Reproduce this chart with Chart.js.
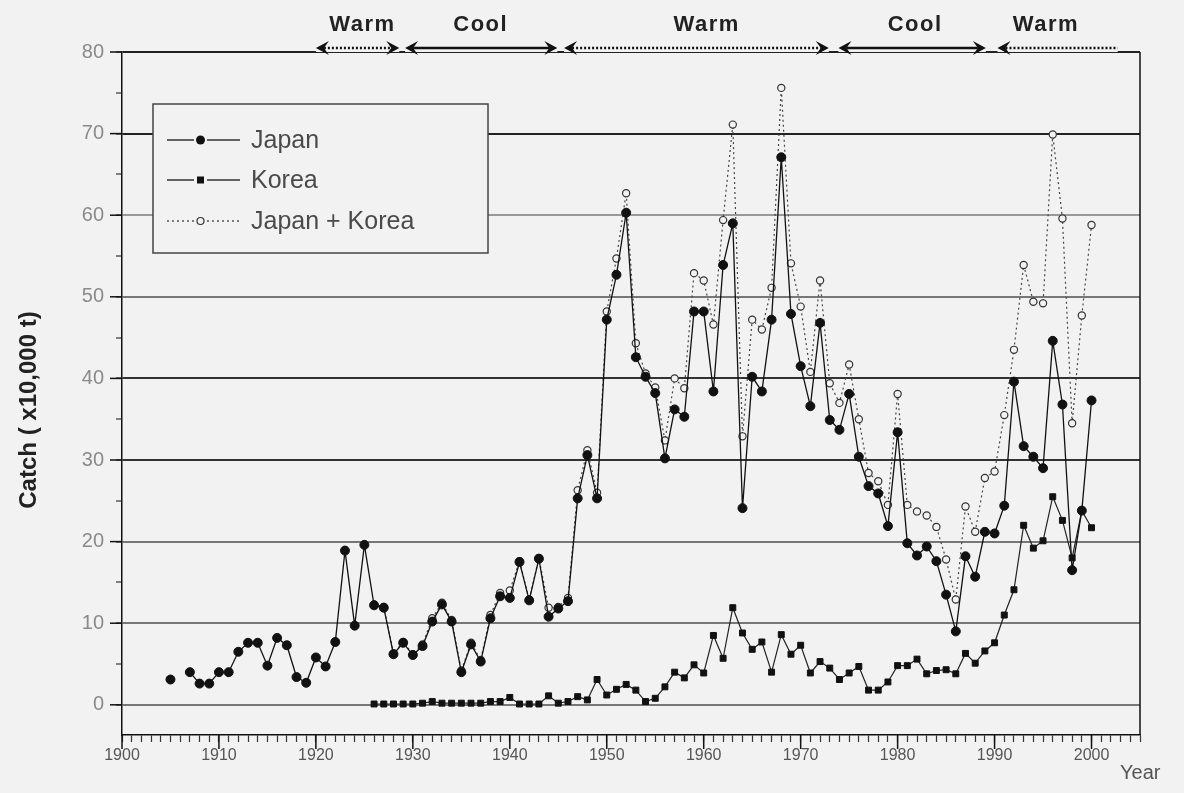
<!DOCTYPE html>
<html>
<head>
<meta charset="utf-8">
<script src="https://cdn.jsdelivr.net/npm/chart.js@4.4.1/dist/chart.umd.min.js"></script>
<style>
  html, body { margin: 0; padding: 0; background: #f2f2f2; }
  #wrap { position: relative; width: 1184px; height: 793px; }
</style>
</head>
<body>
<div id="wrap"><canvas id="graphCanvas" width="1184" height="793"></canvas></div>
<script>
// catch in units of 10,000 t, one entry per year 1905..2000 (null = no record)
var years = [
  1905, 1906, 1907, 1908, 1909, 1910, 1911, 1912, 1913, 1914,
  1915, 1916, 1917, 1918, 1919, 1920, 1921, 1922, 1923, 1924,
  1925, 1926, 1927, 1928, 1929, 1930, 1931, 1932, 1933, 1934,
  1935, 1936, 1937, 1938, 1939, 1940, 1941, 1942, 1943, 1944,
  1945, 1946, 1947, 1948, 1949, 1950, 1951, 1952, 1953, 1954,
  1955, 1956, 1957, 1958, 1959, 1960, 1961, 1962, 1963, 1964,
  1965, 1966, 1967, 1968, 1969, 1970, 1971, 1972, 1973, 1974,
  1975, 1976, 1977, 1978, 1979, 1980, 1981, 1982, 1983, 1984,
  1985, 1986, 1987, 1988, 1989, 1990, 1991, 1992, 1993, 1994,
  1995, 1996, 1997, 1998, 1999, 2000
];
var japan = [
  3.1, null, 4.0, 2.6, 2.6, 4.0, 4.0, 6.5, 7.6, 7.6,
  4.8, 8.2, 7.3, 3.4, 2.7, 5.8, 4.7, 7.7, 18.9, 9.7,
  19.6, 12.2, 11.9, 6.2, 7.6, 6.1, 7.2, 10.2, 12.3, 10.2,
  4.0, 7.4, 5.3, 10.6, 13.3, 13.1, 17.5, 12.8, 17.9, 10.8,
  11.8, 12.7, 25.3, 30.6, 25.3, 47.2, 52.7, 60.3, 42.6, 40.2,
  38.2, 30.2, 36.2, 35.3, 48.2, 48.2, 38.4, 53.9, 59.0, 24.1,
  40.2, 38.4, 47.2, 67.1, 47.9, 41.5, 36.6, 46.8, 34.9, 33.7,
  38.1, 30.4, 26.8, 25.9, 21.9, 33.4, 19.8, 18.3, 19.4, 17.6,
  13.5, 9.0, 18.2, 15.7, 21.2, 21.0, 24.4, 39.6, 31.7, 30.4,
  29.0, 44.6, 36.8, 16.5, 23.8, 37.3
];
var korea = [
  null, null, null, null, null, null, null, null, null, null,
  null, null, null, null, null, null, null, null, null, null,
  null, 0.1, 0.1, 0.1, 0.1, 0.1, 0.2, 0.4, 0.2, 0.2,
  0.2, 0.2, 0.2, 0.4, 0.4, 0.9, 0.1, 0.1, 0.1, 1.1,
  0.2, 0.4, 1.0, 0.6, 3.1, 1.2, 1.9, 2.5, 1.8, 0.4,
  0.8, 2.2, 4.0, 3.3, 4.9, 3.9, 8.5, 5.7, 11.9, 8.8,
  6.8, 7.7, 4.0, 8.6, 6.2, 7.3, 3.9, 5.3, 4.5, 3.1,
  3.9, 4.7, 1.8, 1.8, 2.8, 4.8, 4.8, 5.6, 3.8, 4.2,
  4.3, 3.8, 6.3, 5.1, 6.6, 7.6, 11.0, 14.1, 22.0, 19.2,
  20.1, 25.5, 22.6, 18.0, 23.8, 21.7
];
var japanKorea = [
  null, null, null, null, null, null, null, null, null, null,
  null, null, null, null, null, null, null, null, null, null,
  null, 12.3, 12.0, 6.3, 7.7, 6.2, 7.4, 10.6, 12.5, 10.4,
  4.2, 7.6, 5.5, 11.0, 13.7, 14.0, 17.6, 12.9, 18.0, 11.9,
  12.0, 13.1, 26.3, 31.2, 26.0, 48.2, 54.7, 62.7, 44.3, 40.6,
  38.9, 32.4, 40.0, 38.8, 52.9, 52.0, 46.6, 59.4, 71.1, 32.9,
  47.2, 46.0, 51.1, 75.6, 54.1, 48.8, 40.8, 52.0, 39.4, 37.0,
  41.7, 35.0, 28.4, 27.4, 24.5, 38.1, 24.5, 23.7, 23.2, 21.8,
  17.8, 12.9, 24.3, 21.2, 27.8, 28.6, 35.5, 43.5, 53.9, 49.4,
  49.2, 69.9, 59.6, 34.5, 47.7, 58.8
];

// regime periods shown above the plot
var periodNames = ["Warm", "Cool", "Warm", "Cool", "Warm"];
var periodFrom = [1920, 1929.2, 1945.6, 1973.9, 1990.3];
var periodTo = [1928.6, 1944.9, 1972.9, 1989.1, 2002.7];
var periodLabelAt = [1924.8, 1937, 1960.3, 1981.8, 1995.3];
var periodRightHead = [true, true, true, true, false];

var legendNames = ["Japan", "Korea", "Japan + Korea"];

var yTicks = [0, 5, 10, 15, 20, 25, 30, 35, 40, 45, 50, 55, 60, 65, 70, 75, 80];
var FONT = "'Liberation Sans', Arial, sans-serif";
var BG = "#f2f2f2";

function pts(arr) {
  return years.map(function (yr, i) { return { x: yr, y: arr[i] }; });
}

var gridColors = { 80: "#222", 70: "#222", 60: "#999", 50: "#777", 40: "#333", 30: "#333", 20: "#777", 10: "#777", 0: "#777" };

function arrowHead(ctx, x, y, dir) {
  // dir = -1 points left, 1 points right
  ctx.beginPath();
  ctx.moveTo(x, y);
  ctx.lineTo(x - dir * 13, y - 7);
  ctx.lineTo(x - dir * 8, y);
  ctx.lineTo(x - dir * 13, y + 7);
  ctx.closePath();
  ctx.fill();
}

var decor = {
  id: "decor",
  afterDraw: function (chart) {
    var ctx = chart.ctx;
    var xs = chart.scales.x;
    var ys = chart.scales.y;
    var a = chart.chartArea;
    ctx.save();

    // right frame line
    ctx.strokeStyle = "#111";
    ctx.lineWidth = 1.5;
    ctx.beginPath();
    ctx.moveTo(a.right, a.top);
    ctx.lineTo(a.right, a.bottom);
    ctx.stroke();

    // longer major tick marks
    ctx.lineWidth = 1.5;
    for (var yr = 1900; yr <= 2000; yr += 10) {
      var px = xs.getPixelForValue(yr);
      ctx.beginPath();
      ctx.moveTo(px, a.bottom);
      ctx.lineTo(px, a.bottom + 14);
      ctx.stroke();
    }
    for (var v = 0; v <= 80; v += 10) {
      var py = ys.getPixelForValue(v);
      ctx.beginPath();
      ctx.moveTo(a.left - 12, py);
      ctx.lineTo(a.left, py);
      ctx.stroke();
    }

    // regime arrows
    var ay = ys.getPixelForValue(80) - 4;
    for (var i = 0; i < periodNames.length; i++) {
      var x0 = xs.getPixelForValue(periodFrom[i]);
      var x1 = xs.getPixelForValue(periodTo[i]);
      var warm = periodNames[i] === "Warm";
      ctx.fillStyle = BG;
      ctx.fillRect(x0, ay - 4, x1 - x0, 8);
      ctx.fillStyle = "#111";
      ctx.strokeStyle = "#111";
      ctx.lineWidth = 2.5;
      ctx.setLineDash(warm ? [2, 2] : []);
      ctx.beginPath();
      ctx.moveTo(x0 + 8, ay);
      ctx.lineTo(periodRightHead[i] ? x1 - 8 : x1, ay);
      ctx.stroke();
      ctx.setLineDash([]);
      arrowHead(ctx, x0, ay, -1);
      if (periodRightHead[i]) arrowHead(ctx, x1, ay, 1);
      ctx.font = "bold 22px " + FONT;
      ctx.letterSpacing = "1.5px";
      ctx.textAlign = "center";
      ctx.textBaseline = "middle";
      ctx.fillStyle = "#222";
      ctx.fillText(periodNames[i], xs.getPixelForValue(periodLabelAt[i]), 25);
    }
    ctx.letterSpacing = "0px";

    // legend box
    var lx = 153, ly = 104, lw = 335, lh = 149;
    ctx.fillStyle = BG;
    ctx.fillRect(lx, ly, lw, lh);
    ctx.strokeStyle = "#444";
    ctx.lineWidth = 1.5;
    ctx.strokeRect(lx, ly, lw, lh);
    var rows = [140, 180, 221];
    ctx.font = "25px " + FONT;
    ctx.textAlign = "left";
    ctx.textBaseline = "middle";
    for (var r = 0; r < 3; r++) {
      var ry = rows[r];
      ctx.strokeStyle = r === 2 ? "#555" : "#333";
      ctx.lineWidth = 1.3;
      ctx.setLineDash(r === 2 ? [2, 3] : []);
      ctx.beginPath();
      ctx.moveTo(167, ry);
      ctx.lineTo(194, ry);
      ctx.moveTo(207, ry);
      ctx.lineTo(240, ry);
      ctx.stroke();
      ctx.setLineDash([]);
      ctx.fillStyle = "#111";
      if (r === 0) {
        ctx.beginPath(); ctx.arc(200.5, ry, 4.5, 0, Math.PI * 2); ctx.fill();
      } else if (r === 1) {
        ctx.fillRect(197, ry - 3.5, 7, 7);
      } else {
        ctx.fillStyle = BG;
        ctx.strokeStyle = "#333";
        ctx.lineWidth = 1.2;
        ctx.beginPath(); ctx.arc(200.5, ry, 3.5, 0, Math.PI * 2); ctx.fill(); ctx.stroke();
      }
      ctx.fillStyle = "#4a4a4a";
      ctx.fillText(legendNames[r], 251, ry + 1);
    }

    // axis names
    ctx.font = "20px " + FONT;
    ctx.fillStyle = "#555";
    ctx.textAlign = "left";
    ctx.textBaseline = "alphabetic";
    ctx.fillText("Year", 1120, 779);

    ctx.translate(29, 410);
    ctx.rotate(-Math.PI / 2);
    ctx.font = "bold 24px " + FONT;
    ctx.fillStyle = "#222";
    ctx.textAlign = "center";
    ctx.textBaseline = "middle";
    ctx.fillText("Catch ( x10,000 t)", 0, 0);
    ctx.restore();
  }
};

new Chart(document.getElementById("graphCanvas"), {
  type: "line",
  data: {
    datasets: [
      {
        label: legendNames[0],
        data: pts(japan),
        borderColor: "#111",
        borderWidth: 1.3,
        pointStyle: "circle",
        pointRadius: 4.5,
        pointBackgroundColor: "#111",
        pointBorderColor: "#111",
        pointBorderWidth: 1,
        tension: 0,
        order: 0
      },
      {
        label: legendNames[1],
        data: pts(korea),
        borderColor: "#222",
        borderWidth: 1.2,
        pointStyle: "rect",
        pointRadius: 4.2,
        pointBackgroundColor: "#111",
        pointBorderColor: "#111",
        pointBorderWidth: 1,
        tension: 0,
        order: 1
      },
      {
        label: legendNames[2],
        data: pts(japanKorea),
        borderColor: "#444",
        borderWidth: 1.2,
        borderDash: [2, 3],
        pointStyle: "circle",
        pointRadius: 3.6,
        pointBackgroundColor: BG,
        pointBorderColor: "#333",
        pointBorderWidth: 1.2,
        tension: 0,
        order: 2
      }
    ]
  },
  options: {
    responsive: false,
    animation: false,
    devicePixelRatio: 1,
    layout: { padding: { left: 0, right: 44, top: 52, bottom: 0 } },
    plugins: { legend: { display: false }, tooltip: { enabled: false } },
    scales: {
      x: {
        type: "linear",
        min: 1900,
        max: 2005,
        afterBuildTicks: function (s) {
          var t = [];
          for (var yr = 1900; yr <= 2005; yr++) t.push({ value: yr });
          s.ticks = t;
        },
        afterFit: function (s) { s.height = 58; },
        ticks: {
          autoSkip: false,
          maxRotation: 0,
          padding: 4,
          color: "#555",
          font: { family: FONT, size: 16 },
          callback: function (v) { return v % 10 === 0 ? String(v) : ""; }
        },
        grid: { drawOnChartArea: false, drawTicks: true, tickLength: 7, tickColor: "#333", tickWidth: 1.2 },
        border: { display: true, color: "#111", width: 1.5 }
      },
      y: {
        type: "linear",
        min: -3.7,
        max: 80,
        afterBuildTicks: function (s) {
          s.ticks = yTicks.map(function (v) { return { value: v }; });
        },
        afterFit: function (s) { s.width = 122; },
        ticks: {
          padding: 12,
          color: "#8a8a8a",
          font: { family: FONT, size: 20 },
          callback: function (v) { return v % 10 === 0 ? String(v) : ""; }
        },
        grid: {
          color: function (c) { var v = c.tick ? c.tick.value : null; return v !== null && v % 10 === 0 ? gridColors[v] : "rgba(0,0,0,0)"; },
          lineWidth: 2,
          drawTicks: true,
          tickLength: 6,
          tickColor: "#333",
          tickWidth: 1.2
        },
        border: { display: true, color: "#111", width: 1.5 }
      }
    }
  },
  plugins: [decor]
});
</script>
</body>
</html>
